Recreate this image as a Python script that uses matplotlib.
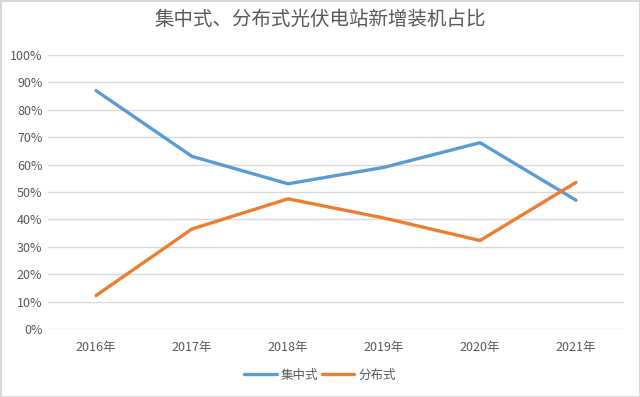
import matplotlib.pyplot as plt
import matplotlib.ticker as mticker

plt.rcParams['font.family'] = ['Noto Sans CJK SC', 'DejaVu Sans']

years = ['2016年', '2017年', '2018年', '2019年', '2020年', '2021年']
centralized = [87.0, 63.0, 53.0, 59.0, 68.0, 47.0]
distributed = [12.2, 36.5, 47.5, 40.5, 32.3, 53.5]
series_names = ['集中式', '分布式']

fig = plt.figure(figsize=(6.4, 3.97), dpi=100)
fig.patch.set_edgecolor('#D9D9D9')
fig.patch.set_linewidth(2)
ax = fig.add_axes([48 / 640, 1 - 329 / 397, 576 / 640, 274 / 397])

x = range(len(years))
ax.plot(x, centralized, color='#5B9BD5', lw=2.4, label=series_names[0], solid_capstyle='round')
ax.plot(x, distributed, color='#ED7D31', lw=2.4, label=series_names[1], solid_capstyle='round')

ax.set_xlim(-0.5, len(years) - 0.5)
ax.set_ylim(0, 100)
ax.set_yticks(range(0, 101, 10))
ax.yaxis.set_major_formatter(mticker.FuncFormatter(lambda v, p: '%d%%' % v))
ax.set_xticks(list(x))
ax.set_xticklabels(years)
ax.grid(axis='y', color='#D9D9D9', lw=1)
ax.set_axisbelow(True)
for s in ax.spines.values():
    s.set_visible(False)
ax.tick_params(length=0, colors='#595959', labelsize=9)
ax.tick_params(axis='x', pad=9)
ax.tick_params(axis='y', pad=4)

fig.text(0.5, 1 - 19 / 397, '集中式、分布式光伏电站新增装机占比', ha='center', va='center',
         fontsize=14, color='#595959')

fig.legend(loc='center', bbox_to_anchor=(0.5, 1 - 375 / 397), ncol=2, frameon=False,
           fontsize=9, labelcolor='#595959', handlelength=2.6, columnspacing=0.3,
           handletextpad=0.3)

fig.savefig('out.png', dpi=100)
